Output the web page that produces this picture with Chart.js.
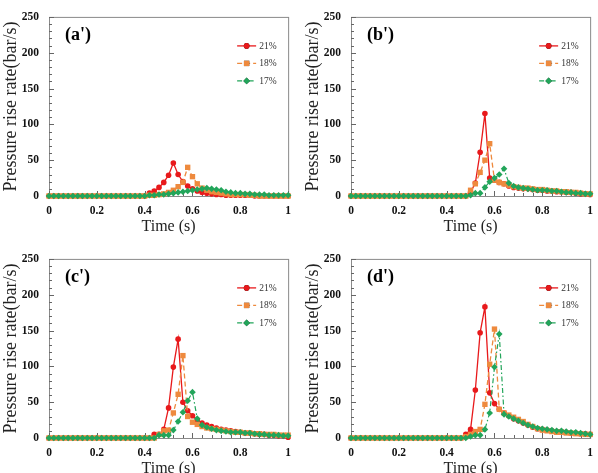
<!DOCTYPE html>
<html>
<head>
<meta charset="utf-8">
<script src="https://cdn.jsdelivr.net/npm/chart.js@4"></script>
<style>
  html, body { margin: 0; padding: 0; background: #fff; }
  #wrap { position: relative; width: 598px; height: 473px; overflow: hidden; }
  .cell { position: absolute; width: 299px; height: 236px; }
</style>
</head>
<body>
<div id="wrap">
  <div class="cell" style="left:0;top:0"><canvas id="ca" width="299" height="236"></canvas></div>
  <div class="cell" style="left:302px;top:0"><canvas id="cb" width="299" height="236"></canvas></div>
  <div class="cell" style="left:0;top:242px"><canvas id="cc" width="299" height="236"></canvas></div>
  <div class="cell" style="left:302px;top:242px"><canvas id="cd" width="299" height="236"></canvas></div>
</div>
<script>
// time axis (s)
const TIME = [0, 0.02, 0.04, 0.06, 0.08, 0.1, 0.12, 0.14, 0.16, 0.18,
  0.2, 0.22, 0.24, 0.26, 0.28, 0.3, 0.32, 0.34, 0.36, 0.38,
  0.4, 0.42, 0.44, 0.46, 0.48, 0.5, 0.52, 0.54, 0.56, 0.58,
  0.6, 0.62, 0.64, 0.66, 0.68, 0.7, 0.72, 0.74, 0.76, 0.78,
  0.8, 0.82, 0.84, 0.86, 0.88, 0.9, 0.92, 0.94, 0.96, 0.98, 1];
const SERIES = ['21%', '18%', '17%'];
const X_TICKS = [0, 0.2, 0.4, 0.6, 0.8, 1];
const Y_TICKS = [0, 50, 100, 150, 200, 250];

// (a')
const A21 = [0,0,0,0,0,0,0,0,0,0, 0,0,0,0,0,0,0,0,0,0, 0,
  4,7,12,19,29,46,30,20,14,10,7,5,4,3,2,2,1,1,1,1,1,1,0,0,0,0,0,0,0,0];
const A18 = [0,0,0,0,0,0,0,0,0,0, 0,0,0,0,0,0,0,0,0,0, 0,
  1,1,2,3,5,8,13,19,40,27,17,11,8,6,5,4,3,2,2,2,2,1,1,0,0,0,0,0,0,0];
const A17 = [0,0,0,0,0,0,0,0,0,0, 0,0,0,0,0,0,0,0,0,0, 0,
  1,1,2,2,3,4,5,6,7,8,9,10,11,10,9,8,6,5,4,4,3,3,2,2,2,1,1,1,1,1];

// (b')
const B21 = [0,0,0,0,0,0,0,0,0,0, 0,0,0,0,0,0,0,0,0,0, 0,0,0,0,0,
  5,18,61,115,25,22,19,17,14,12,11,10,10,9,8,8,7,7,6,6,5,5,4,3,3,2];
const B18 = [0,0,0,0,0,0,0,0,0,0, 0,0,0,0,0,0,0,0,0,0, 0,0,0,0,0,
  8,17,33,50,73,22,19,17,15,13,12,11,11,10,9,9,8,7,7,6,6,5,5,4,3,3];
const B17 = [0,0,0,0,0,0,0,0,0,0, 0,0,0,0,0,0,0,0,0,0, 0,0,0,0,0,
  1,4,4,12,20,25,30,38,18,14,12,11,10,9,8,8,8,7,7,6,5,5,4,4,3,3];

// (c')
const C21 = [0,0,0,0,0,0,0,0,0,0, 0,0,0,0,0,0,0,0,0,0, 0,0,
  5,5,12,42,99,138,50,38,31,25,21,18,16,14,12,11,10,9,8,7,7,6,5,5,4,4,3,3,1];
const C18 = [0,0,0,0,0,0,0,0,0,0, 0,0,0,0,0,0,0,0,0,0, 0,0,0,
  5,10,11,35,61,115,30,22,19,16,14,13,12,11,10,9,8,8,7,7,6,6,5,5,5,4,4,4];
const C17 = [0,0,0,0,0,0,0,0,0,0, 0,0,0,0,0,0,0,0,0,0, 0,0,0,
  4,4,4,11,23,36,52,64,27,18,15,13,11,10,9,8,8,8,7,7,6,5,5,4,4,4,3,3];

// (d')
const D21 = [0,0,0,0,0,0,0,0,0,0, 0,0,0,0,0,0,0,0,0,0, 0,0,0,0,
  5,12,67,147,183,63,48,40,35,31,27,24,21,18,15,13,12,11,10,9,9,8,7,7,6,6,5];
const D18 = [0,0,0,0,0,0,0,0,0,0, 0,0,0,0,0,0,0,0,0,0, 0,0,0,0,
  2,5,9,12,47,103,152,40,35,32,29,26,23,19,16,13,11,10,9,8,8,7,7,6,6,5,5];
const D17 = [0,0,0,0,0,0,0,0,0,0, 0,0,0,0,0,0,0,0,0,0, 0,0,0,0,0,
  2,4,4,12,35,99,145,33,30,27,24,21,18,16,14,13,12,11,10,10,9,8,8,7,6,5];

const RED = '#e8191b';
const ORANGE = '#ee8a3e';
const GREEN = '#22a55a';
const SERIF = "'Liberation Serif', 'Times New Roman', serif";

function series(label, vals, color, style, radius, dash, width, order) {
  return {
    label: label,
    data: TIME.map((t, i) => ({ x: t, y: vals[i] })),
    borderColor: color,
    backgroundColor: color,
    borderWidth: width,
    borderDash: dash,
    pointStyle: style,
    pointRadius: radius,
    pointBorderWidth: 0,
    pointBackgroundColor: color,
    tension: 0,
    clip: false,
    order: order
  };
}

// frame, inward ticks, panel tag and legend
const decor = {
  id: 'decor',
  beforeDatasetsDraw(chart) {
    const { ctx, chartArea: a, scales } = chart;
    ctx.save();
    ctx.strokeStyle = '#8a8a8a';
    ctx.lineWidth = 1;
    ctx.strokeRect(a.left + 0.5, a.top + 0.5, a.right - a.left, a.bottom - a.top);
    ctx.strokeStyle = '#666';
    ctx.beginPath();
    for (let v = 0; v <= 250; v += 10) {
      const y = Math.round(scales.y.getPixelForValue(v)) + 0.5;
      const len = v % 50 === 0 ? 5 : 3;
      ctx.moveTo(a.left, y); ctx.lineTo(a.left + len, y);
    }
    for (let k = 0; k <= 25; k++) {
      const x = Math.round(scales.x.getPixelForValue(k * 0.04)) + 0.5;
      const len = k % 5 === 0 ? 5 : 3;
      ctx.moveTo(x, a.bottom); ctx.lineTo(x, a.bottom - len);
    }
    ctx.stroke();
    ctx.restore();
  },
  afterDraw(chart, args, opts) {
    const { ctx, chartArea: a } = chart;
    ctx.save();
    ctx.fillStyle = '#000';
    ctx.font = 'bold 18px ' + SERIF;
    ctx.textBaseline = 'middle';
    ctx.textAlign = 'left';
    ctx.fillText(opts.tag, a.left + 16, a.top + 18);

    ctx.font = '9.5px ' + SERIF;
    chart.data.datasets.forEach((ds, i) => {
      const y = a.top + 29 + i * 17.5;
      const x0 = a.right - 51, x1 = a.right - 32;
      ctx.strokeStyle = ds.borderColor;
      ctx.lineWidth = ds.borderWidth;
      ctx.setLineDash(ds.borderDash);
      ctx.beginPath();
      ctx.moveTo(x0, y); ctx.lineTo(x1, y);
      ctx.stroke();
      ctx.setLineDash([]);
      Chart.helpers.drawPoint(ctx, {
        pointStyle: ds.pointStyle, radius: ds.pointRadius, rotation: 0, borderWidth: 0
      }, (x0 + x1) / 2, y);
      ctx.fillStyle = ds.borderColor;
      ctx.fill();
      ctx.fillStyle = '#333';
      ctx.fillText(ds.label, a.right - 29, y + 0.5);
    });
    ctx.restore();
  }
};

function makeChart(id, tag, s21, s18, s17) {
  return new Chart(document.getElementById(id), {
    type: 'line',
    data: {
      datasets: [
        series(SERIES[0], s21, RED, 'circle', 2.8, [], 1.3, 2),
        series(SERIES[1], s18, ORANGE, 'rect', 3.8, [5, 3], 1.3, 1),
        series(SERIES[2], s17, GREEN, 'rectRot', 3.3, [5, 2.5, 1.5, 2.5], 1.2, 0)
      ]
    },
    options: {
      responsive: false,
      animation: false,
      layout: { padding: { top: 7, right: 7, left: 0, bottom: 0 } },
      plugins: {
        legend: { display: false },
        tooltip: { enabled: false },
        decor: { tag: tag }
      },
      scales: {
        x: {
          type: 'linear',
          min: 0, max: 1,
          afterFit: s => { s.height = 40; },
          afterBuildTicks: s => { s.ticks = X_TICKS.map(v => ({ value: v })); },
          grid: { display: false, drawTicks: false },
          border: { display: false },
          ticks: {
            color: '#111', padding: 8,
            font: { family: SERIF, size: 11.5, weight: 'bold' },
            callback: v => String(+v.toFixed(1))
          },
          title: {
            display: true, text: 'Time (s)', color: '#222',
            font: { family: SERIF, size: 16 },
            padding: { top: 0, bottom: 0 }
          }
        },
        y: {
          min: 0, max: 250,
          afterFit: s => { s.width = 49; },
          afterBuildTicks: s => { s.ticks = Y_TICKS.map(v => ({ value: v })); },
          grid: { display: false, drawTicks: false },
          border: { display: false },
          ticks: {
            color: '#111', padding: 10,
            font: { family: SERIF, size: 11.5, weight: 'bold' }
          },
          title: {
            display: true, text: 'Pressure rise rate(bar/s)', color: '#222',
            font: { family: SERIF, size: 18 },
            padding: { top: 0, bottom: 0 }
          }
        }
      }
    },
    plugins: [decor]
  });
}

makeChart('ca', "(a')", A21, A18, A17);
makeChart('cb', "(b')", B21, B18, B17);
makeChart('cc', "(c')", C21, C18, C17);
makeChart('cd', "(d')", D21, D18, D17);
</script>
</body>
</html>
